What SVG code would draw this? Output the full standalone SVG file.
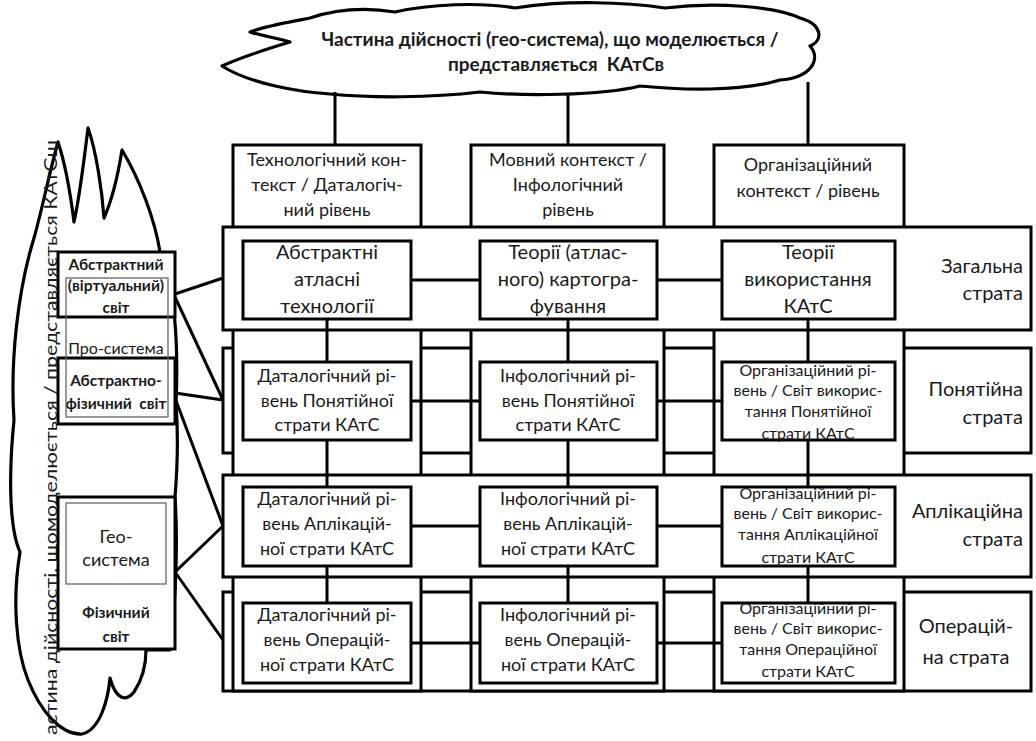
<svg xmlns="http://www.w3.org/2000/svg" width="1036" height="741" viewBox="0 0 1036 741">
  <style>
    .bx { fill: #fff; stroke: #000; stroke-width: 3; }
    .cl { fill: #fff; stroke: #000; stroke-width: 3.2; stroke-linejoin: round; }
    .ln { fill: none; stroke: #000; stroke-width: 3; }
    .thin { fill: none; stroke: #666; stroke-width: 1.3; }
    text { font-family: Lato, "Noto Sans", sans-serif; fill: #1a1a1a; }
    .t18 { font-size: 18px; text-anchor: middle; }
    .t19 { font-size: 19px; text-anchor: middle; }
    .t20 { font-size: 20px; text-anchor: middle; }
    .t16 { font-size: 16px; text-anchor: middle; }
    .w15 { font-size: 15.5px; text-anchor: middle; font-weight: bold; }
    .lab { font-size: 20px; text-anchor: end; }
    .b { font-weight: bold; }
  </style>

  <!-- vertical cloud on the left -->
  <g id="cloud-left">
    <path class="cl" d="M160,252 C155,220 140,180 122,150 C118,175 112,200 104,218 C102,190 96,150 88,128 C84,160 80,195 74,222 C70,190 64,160 58,142 C50,170 42,210 34,238 C18,290 10,360 14,420 C8,480 10,530 20,552 C12,600 16,650 28,680 C40,710 60,735 82,734 C100,730 108,700 110,678 C116,700 126,702 134,692 C142,680 146,664 146,650 L170,650 C176,600 178,540 175,497 C178,460 178,430 176,405 C178,360 176,320 172,300 C168,280 164,265 160,252 Z"/>
    <text transform="translate(57,735) rotate(-90)" font-size="17" textLength="595" lengthAdjust="spacingAndGlyphs">астина дійсності, щомоделюється / представляється КАтСш</text>
  </g>

  <!-- cloud on top -->
  <g id="cloud-top">
    <path class="cl" d="M310,18 C340,8 370,8 395,12 C430,4 480,2 515,8 C565,0 625,2 665,8 C715,2 775,6 800,18 C822,24 824,40 810,46 C822,60 810,78 780,80 C740,92 680,90 640,86 C600,96 520,96 480,92 C430,98 370,98 330,94 C300,92 250,84 222,66 C240,58 270,48 290,42 C278,38 262,36 250,32 C265,26 290,22 310,18 Z"/>
    <text class="t19 b" x="550" y="46">Частина дійсності (гео-система), що моделюється /</text>
    <text class="t19 b" x="556" y="71">представляється&#160; КАтСв</text>
  </g>

  <!-- strata drawn behind the columns -->
  <g id="stratum-2">
    <rect class="bx" x="223" y="348" width="808" height="105"/>
    <text class="lab" x="1023" y="396">Понятійна</text>
    <text class="lab" x="1023" y="424">страта</text>
  </g>
  <g id="stratum-4">
    <rect class="bx" x="223" y="592" width="808" height="99"/>
    <text class="t20" x="966" y="633">Операцій-</text>
    <text class="t20" x="966" y="664">на страта</text>
  </g>

  <!-- columns with their headers -->
  <g id="column-1">
    <rect class="bx" x="233" y="145" width="188" height="546"/>
    <text class="t18" x="327" y="166">Технологічний кон-</text>
    <text class="t18" x="327" y="191">текст / Даталогіч-</text>
    <text class="t18" x="327" y="216">ний рівень</text>
  </g>
  <g id="column-2">
    <rect class="bx" x="471" y="145" width="193" height="546"/>
    <text class="t18" x="568" y="166">Мовний контекст /</text>
    <text class="t18" x="568" y="191">Інфологічний</text>
    <text class="t18" x="568" y="216">рівень</text>
  </g>
  <g id="column-3">
    <rect class="bx" x="714" y="145" width="190" height="546"/>
    <text class="t18" x="808" y="171">Організаційний</text>
    <text class="t18" x="808" y="197">контекст / рівень</text>
  </g>

  <!-- strata drawn over the columns -->
  <g id="stratum-1">
    <rect class="bx" x="223" y="227" width="808" height="103"/>
    <text class="lab" x="1023" y="273">Загальна</text>
    <text class="lab" x="1023" y="300">страта</text>
  </g>
  <g id="stratum-3">
    <rect class="bx" x="223" y="475" width="808" height="102"/>
    <text class="lab" x="1023" y="518">Аплікаційна</text>
    <text class="lab" x="1023" y="546">страта</text>
  </g>

  <!-- connectors -->
  <g id="connectors">
    <path class="ln" d="M335,92 V145 M568,95 V145 M808,82 V145"/>
    <path class="ln" d="M327,319 V603 M568,319 V603 M808,319 V603"/>
    <path class="ln" d="M411,280 H480 M657,280 H722"/>
    <path class="ln" d="M411,401 H480 M657,401 H722"/>
    <path class="ln" d="M411,526 H480 M657,526 H722"/>
    <path class="ln" d="M411,643 H480 M657,643 H722"/>
    <path class="ln" d="M175,294 L223,278 M175,297 L223,400 M175,393 L223,400 M175,398 L223,526 M175,572 L223,526 M175,572 L223,640"/>
  </g>

  <!-- stratum 1 cells -->
  <g id="general-data">
    <rect class="bx" x="243" y="241" width="168" height="78"/>
    <text class="t20" x="327" y="259">Абстрактні</text>
    <text class="t20" x="327" y="286">атласні</text>
    <text class="t20" x="327" y="313">технології</text>
  </g>
  <g id="general-info">
    <rect class="bx" x="480" y="241" width="177" height="78"/>
    <text class="t20" x="568" y="259">Теорії (атлас-</text>
    <text class="t20" x="568" y="286">ного) картогра-</text>
    <text class="t20" x="568" y="313">фування</text>
  </g>
  <g id="general-org">
    <rect class="bx" x="722" y="241" width="173" height="78"/>
    <text class="t20" x="808" y="259">Теорії</text>
    <text class="t20" x="808" y="286">використання</text>
    <text class="t20" x="808" y="313">КАтС</text>
  </g>

  <!-- stratum 2 cells -->
  <g id="concept-data">
    <rect class="bx" x="243" y="362" width="168" height="78"/>
    <text class="t18" x="327" y="382">Даталогічний рі-</text>
    <text class="t18" x="327" y="407">вень Понятійної</text>
    <text class="t18" x="327" y="431">страти КАтС</text>
  </g>
  <g id="concept-info">
    <rect class="bx" x="480" y="362" width="177" height="78"/>
    <text class="t18" x="568" y="382">Інфологічний рі-</text>
    <text class="t18" x="568" y="407">вень Понятійної</text>
    <text class="t18" x="568" y="431">страти КАтС</text>
  </g>
  <g id="concept-org">
    <rect class="bx" x="722" y="362" width="173" height="78"/>
    <text class="t16" x="808" y="376">Організаційний рі-</text>
    <text class="t16" x="808" y="396">вень / Світ викорис-</text>
    <text class="t16" x="808" y="417">тання Понятійної</text>
    <text class="t16" x="808" y="439">страти КАтС</text>
  </g>

  <!-- stratum 3 cells -->
  <g id="applied-data">
    <rect class="bx" x="243" y="487" width="168" height="79"/>
    <text class="t18" x="327" y="505">Даталогічний рі-</text>
    <text class="t18" x="327" y="530">вень Аплікацій-</text>
    <text class="t18" x="327" y="555">ної страти КАтС</text>
  </g>
  <g id="applied-info">
    <rect class="bx" x="480" y="487" width="177" height="79"/>
    <text class="t18" x="568" y="505">Інфологічний рі-</text>
    <text class="t18" x="568" y="530">вень Аплікацій-</text>
    <text class="t18" x="568" y="555">ної страти КАтС</text>
  </g>
  <g id="applied-org">
    <rect class="bx" x="722" y="487" width="173" height="79"/>
    <text class="t16" x="808" y="499">Організаційний рі-</text>
    <text class="t16" x="808" y="519">вень / Світ викорис-</text>
    <text class="t16" x="808" y="540">тання Аплікаційної</text>
    <text class="t16" x="808" y="563">страти КАтС</text>
  </g>

  <!-- stratum 4 cells -->
  <g id="operation-data">
    <rect class="bx" x="243" y="603" width="168" height="80"/>
    <text class="t18" x="327" y="621">Даталогічний рі-</text>
    <text class="t18" x="327" y="646">вень Операцій-</text>
    <text class="t18" x="327" y="671">ної страти КАтС</text>
  </g>
  <g id="operation-info">
    <rect class="bx" x="480" y="603" width="177" height="80"/>
    <text class="t18" x="568" y="621">Інфологічний рі-</text>
    <text class="t18" x="568" y="646">вень Операцій-</text>
    <text class="t18" x="568" y="671">ної страти КАтС</text>
  </g>
  <g id="operation-org">
    <rect class="bx" x="722" y="603" width="173" height="80"/>
    <text class="t16" x="808" y="614">Організаційний рі-</text>
    <text class="t16" x="808" y="634">вень / Світ викорис-</text>
    <text class="t16" x="808" y="655">тання Операційної</text>
    <text class="t16" x="808" y="677">страти КАтС</text>
  </g>

  <!-- worlds on the left -->
  <g id="abstract-world">
    <rect class="bx" x="58" y="252" width="117" height="65"/>
    <text class="w15" x="116" y="270">Абстрактний</text>
    <text class="w15" x="116" y="291">(віртуальний)</text>
    <text class="w15" x="116" y="313">світ</text>
  </g>
  <g id="abstract-physical-world">
    <rect class="bx" x="58" y="358" width="117" height="66"/>
    <text class="w15" x="116" y="386">Абстрактно-</text>
    <text class="w15" x="116" y="409">фізичний&#160; світ</text>
  </g>
  <g id="pro-system">
    <rect class="thin" x="66" y="278" width="102" height="139"/>
    <text class="t16" x="116" y="354">Про-система</text>
  </g>
  <g id="physical-world">
    <rect class="bx" x="58" y="497" width="117" height="152"/>
    <text class="w15" font-size="17" x="116" y="618">Фізичний</text>
    <text class="w15" font-size="17" x="116" y="642">світ</text>
  </g>
  <g id="geo-system">
    <rect class="thin" x="66" y="503" width="100" height="81"/>
    <text class="t18" x="116" y="543">Гео-</text>
    <text class="t18" x="116" y="566">система</text>
  </g>
</svg>
